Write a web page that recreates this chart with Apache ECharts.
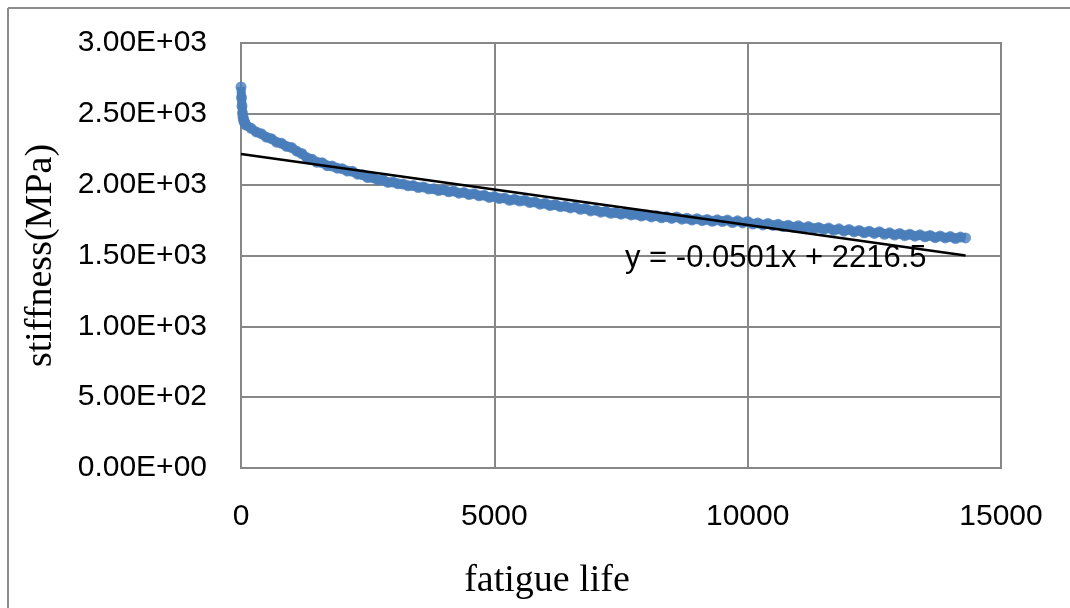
<!DOCTYPE html>
<html>
<head>
<meta charset="utf-8">
<script src="https://cdn.jsdelivr.net/npm/echarts@6/dist/echarts.min.js"></script>
<style>
html,body{margin:0;padding:0;background:#fff;}
#chart{width:1070px;height:608px;}
</style>
</head>
<body>
<div id="chart"></div>
<script>
// fatigue life (cycles) of each measured point
const lifeX = [0,10,20,30,40,50,60,70,80,100,200,300,400,500,600,700,800,900,1000,1100,1200,1300,1400,1500,1600,1700,1800,1900,2000,2100,2200,2300,2400,2500,2600,2700,2800,2900,3000,3100,3200,3300,3400,3500,3600,3700,3800,3900,4000,4100,4200,4300,4400,4500,4600,4700,4800,4900,5000,5100,5200,5300,5400,5500,5600,5700,5800,5900,6000,6100,6200,6300,6400,6500,6600,6700,6800,6900,7000,7100,7200,7300,7400,7500,7600,7700,7800,7900,8000,8100,8200,8300,8400,8500,8600,8700,8800,8900,9000,9100,9200,9300,9400,9500,9600,9700,9800,9900,10000,10100,10200,10300,10400,10500,10600,10700,10800,10900,11000,11100,11200,11300,11400,11500,11600,11700,11800,11900,12000,12100,12200,12300,12400,12500,12600,12700,12800,12900,13000,13100,13200,13300,13400,13500,13600,13700,13800,13900,14000,14100,14200,14300];
// stiffness (MPa) of each measured point
const stiffnessY = [2690,2615,2555,2505,2478,2460,2448,2440,2428,2420,2398,2372,2360,2335,2325,2300,2292,2270,2262,2236,2220,2190,2180,2158,2155,2134,2131,2116,2112,2096,2094,2074,2070,2050,2049,2033,2035,2016,2018,2006,2004,1992,1994,1980,1984,1970,1972,1958,1964,1950,1955,1940,1945,1930,1936,1921,1926,1910,1916,1902,1906,1890,1897,1884,1890,1874,1878,1862,1868,1853,1860,1845,1848,1836,1842,1826,1832,1815,1820,1806,1812,1798,1803,1792,1800,1786,1791,1778,1786,1772,1780,1766,1774,1762,1772,1756,1763,1750,1760,1746,1755,1741,1752,1740,1750,1733,1745,1730,1740,1722,1730,1716,1726,1712,1720,1704,1714,1700,1710,1694,1704,1690,1698,1684,1694,1678,1688,1672,1684,1666,1677,1660,1672,1656,1668,1650,1660,1644,1656,1640,1650,1636,1646,1632,1642,1626,1638,1624,1634,1620,1630,1624];
// linear trendline end points
const trendX = [0, 14300];
const trendY = [2216.5, 1500.1];
const trendLabel = 'y = -0.0501x + 2216.5';
const yTicks = ['0.00E+00','5.00E+02','1.00E+03','1.50E+03','2.00E+03','2.50E+03','3.00E+03'];
const xTitle = 'fatigue life';
const yTitle = 'stiffness(MPa)';

const chart = echarts.init(document.getElementById('chart'), null, {renderer:'canvas'});
const gridColor = '#878787';
const blue = '#4A7EBB';
const pts = lifeX.map((x, i) => [x, stiffnessY[i]]);
const option = {
  animation: false,
  backgroundColor: '#fff',
  grid: {left: 241, right: 69, top: 43, bottom: 140, show: true, borderColor: gridColor, borderWidth: 2,
    containLabel: false, outerBoundsMode: 'none'},
  xAxis: {
    type: 'value', min: 0, max: 15000, interval: 5000,
    name: xTitle, nameLocation: 'middle', nameGap: 94,
    nameTextStyle: {fontFamily: 'Liberation Serif', fontSize: 38, color: '#000', padding: [0, 148, 0, 0]},
    axisLine: {show: false}, axisTick: {show: false},
    axisLabel: {fontFamily: 'Liberation Sans', fontSize: 30, color: '#000', margin: 34,
      formatter: function (v) { return String(v); }},
    splitLine: {show: true, lineStyle: {color: gridColor, width: 2}}
  },
  yAxis: {
    type: 'value', min: 0, max: 3000, interval: 500,
    name: yTitle, nameLocation: 'middle', nameGap: 181, nameRotate: 90,
    nameTextStyle: {fontFamily: 'Liberation Serif', fontSize: 38, color: '#000'},
    axisLine: {show: false}, axisTick: {show: false},
    axisLabel: {fontFamily: 'Liberation Sans', fontSize: 30, color: '#000', margin: 34,
      formatter: function (v) { return yTicks[Math.round(v / 500)]; }},
    splitLine: {show: true, lineStyle: {color: gridColor, width: 2}}
  },
  series: [
    {
      type: 'line', symbol: 'none', silent: true,
      lineStyle: {color: blue, width: 9},
      data: pts, z: 1
    },
    {
      type: 'scatter', symbol: 'circle', symbolSize: 11,
      itemStyle: {color: blue},
      data: pts,
      z: 2
    },
    {
      type: 'line', symbol: 'none',
      lineStyle: {color: '#000', width: 2.5},
      data: trendX.map((x, i) => [x, trendY[i]]),
      z: 3
    }
  ],
  graphic: [
    {type: 'line', shape: {x1: 8, y1: 8, x2: 1070, y2: 8}, style: {stroke: '#8c8c8c', lineWidth: 2}},
    {type: 'line', shape: {x1: 8, y1: 8, x2: 8, y2: 608}, style: {stroke: '#8c8c8c', lineWidth: 2}},
    {type: 'text', left: 625, top: 243, z: 10,
      style: {text: trendLabel, fontFamily: 'Liberation Sans', fontSize: 31, fill: '#000'}}
  ]
};
chart.setOption(option);
</script>
</body>
</html>
